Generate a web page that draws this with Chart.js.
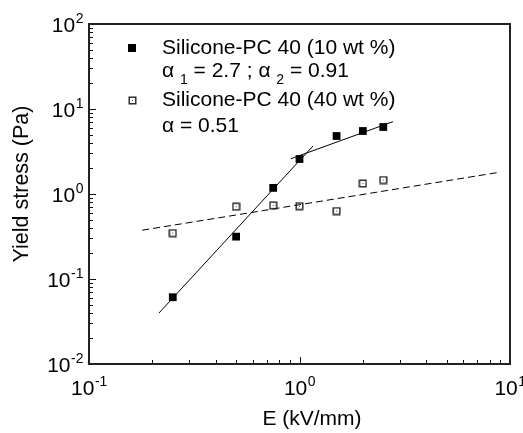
<!DOCTYPE html>
<html>
<head>
<meta charset="utf-8">
<script src="https://cdn.jsdelivr.net/npm/chart.js@4/dist/chart.umd.min.js"></script>
<style>
  body { margin: 0; background: #fff; }
  canvas { display: block; }
</style>
</head>
<body>
<canvas id="yieldChart" width="523" height="433"></canvas>
<script>
// E field (kV/mm) and yield stress (Pa)
const eField = [0.25, 0.5, 0.75, 1.0, 1.5, 2.0, 2.5];
const stress10wt = [0.061, 0.315, 1.18, 2.58, 4.81, 5.51, 6.14];
const stress40wt = [0.347, 0.71, 0.735, 0.72, 0.63, 1.33, 1.46];

// fitted power-law lines (end points)
const fit1E = [0.215, 1.16];
const fit1Stress = [0.0398, 3.68];
const fit2E = [0.91, 2.78];
const fit2Stress = [2.6, 7.1];
const fit40E = [0.179, 8.65];
const fit40Stress = [0.375, 1.78];

// axes
const xRange = [0.1, 10];
const yRange = [0.01, 100];
const xTickValues = [0.1, 1, 10];
const yTickValues = [0.01, 0.1, 1, 10, 100];
const xTitle = "E (kV/mm)";
const yTitle = "Yield stress (Pa)";

const FONT = '"Liberation Sans", Arial, sans-serif';

function toPoints(xs, ys) {
    return xs.map(function(x, i) { return { x: x, y: ys[i] }; });
}

// open square with a small dot in the middle
function openSquare() {
    let c = document.createElement("canvas");
    c.width = 9; c.height = 9;
    let g = c.getContext("2d");
    g.strokeStyle = "#222";
    g.lineWidth = 1.4;
    g.strokeRect(1.2, 1.2, 6.6, 6.6);
    g.fillStyle = "#444";
    g.fillRect(4, 4, 1, 1);
    return c;
}
const openMarker = openSquare();

function drawPow(ctx, exp, x, y, align) {
    ctx.font = "21px " + FONT;
    let w1 = ctx.measureText("10").width;
    ctx.font = "14px " + FONT;
    let sup = String(exp);
    let w2 = ctx.measureText(sup).width;
    let left = align === "right" ? x - w1 - w2 : x - (w1 + w2) / 2;
    ctx.textAlign = "left";
    ctx.textBaseline = "alphabetic";
    ctx.font = "21px " + FONT;
    ctx.fillText("10", left, y);
    ctx.font = "14px " + FONT;
    ctx.fillText(sup, left + w1 + 0.5, y - 9);
}

// frame, inward ticks, tick labels, titles and legend
const decorPlugin = {
    id: "decor",
    afterDraw: function(chart) {
        let ctx = chart.ctx;
        let a = chart.chartArea;
        let xs = chart.scales.x, ys = chart.scales.y;
        ctx.save();
        ctx.fillStyle = "#000";
        ctx.strokeStyle = "#111";

        // ticks
        ctx.lineWidth = 1;
        ctx.beginPath();
        for (let n = -1; n <= 1; n++) {
            for (let k = 1; k <= 9; k++) {
                let v = k * Math.pow(10, n);
                if (v < xRange[0] || v > xRange[1]) continue;
                let px = Math.round(xs.getPixelForValue(v)) + 0.5;
                let len = k === 1 ? 7 : 4;
                ctx.moveTo(px, a.bottom);
                ctx.lineTo(px, a.bottom - len);
            }
        }
        for (let n = -2; n <= 2; n++) {
            for (let k = 1; k <= 9; k++) {
                let v = k * Math.pow(10, n);
                if (v < yRange[0] || v > yRange[1]) continue;
                let py = Math.round(ys.getPixelForValue(v)) + 0.5;
                let len = k === 1 ? 7 : 4;
                ctx.moveTo(a.left, py);
                ctx.lineTo(a.left + len, py);
            }
        }
        ctx.stroke();

        // frame
        ctx.lineWidth = 2;
        ctx.strokeStyle = "#222";
        ctx.strokeRect(a.left, a.top, a.right - a.left, a.bottom - a.top);

        // tick labels
        xTickValues.forEach(function(v) {
            drawPow(ctx, Math.round(Math.log10(v)), xs.getPixelForValue(v), a.bottom + 31, "center");
        });
        yTickValues.forEach(function(v) {
            drawPow(ctx, Math.round(Math.log10(v)), a.left - 6, ys.getPixelForValue(v) + 7.5, "right");
        });

        // axis titles
        ctx.font = "21px " + FONT;
        ctx.textAlign = "center";
        ctx.textBaseline = "alphabetic";
        ctx.fillText(xTitle, 312, 425);
        ctx.save();
        ctx.translate(28, 184);
        ctx.rotate(-Math.PI / 2);
        ctx.font = "21.5px " + FONT;
        ctx.fillText(yTitle, 0, 0);
        ctx.restore();

        // legend
        ctx.textAlign = "left";
        ctx.fillStyle = "#000";
        ctx.fillRect(128, 44, 8, 8);
        ctx.drawImage(openMarker, 128, 96);
        ctx.font = "21px " + FONT;
        ctx.fillText("Silicone-PC 40 (10 wt %)", 162, 54);
        ctx.fillText("Silicone-PC 40 (40 wt %)", 162, 106);
        ctx.fillText("\u03b1 = 0.51", 162, 132);
        // alpha line with subscripts
        let x = 162, y = 77;
        let parts = [["\u03b1 ", 0], ["1", 1], [" = 2.7 ; \u03b1 ", 0], ["2", 1], [" = 0.91", 0]];
        parts.forEach(function(p) {
            ctx.font = (p[1] ? "14px " : "21px ") + FONT;
            ctx.fillText(p[0], x, p[1] ? y + 7 : y);
            x += ctx.measureText(p[0]).width;
        });
        ctx.restore();
    }
};

new Chart(document.getElementById("yieldChart").getContext("2d"), {
    type: "scatter",
    data: {
        datasets: [
            {
                label: "Silicone-PC 40 (10 wt %)",
                data: toPoints(eField, stress10wt),
                pointStyle: "rect",
                pointRadius: 5.5,
                backgroundColor: "#000",
                borderWidth: 0
            },
            {
                label: "Silicone-PC 40 (40 wt %)",
                data: toPoints(eField, stress40wt),
                pointStyle: openMarker,
                pointRadius: 5
            },
            {
                label: "fit 1",
                data: toPoints(fit1E, fit1Stress),
                showLine: true,
                pointRadius: 0,
                borderColor: "#000",
                borderWidth: 1
            },
            {
                label: "fit 2",
                data: toPoints(fit2E, fit2Stress),
                showLine: true,
                pointRadius: 0,
                borderColor: "#000",
                borderWidth: 1
            },
            {
                label: "fit 40",
                data: toPoints(fit40E, fit40Stress),
                showLine: true,
                pointRadius: 0,
                borderColor: "#000",
                borderWidth: 1,
                borderDash: [7, 4]
            }
        ]
    },
    options: {
        responsive: false,
        animation: false,
        layout: { padding: { left: 89, top: 24, right: 13, bottom: 69 } },
        plugins: { legend: { display: false }, tooltip: { enabled: false } },
        scales: {
            x: { type: "logarithmic", min: xRange[0], max: xRange[1], display: false },
            y: { type: "logarithmic", min: yRange[0], max: yRange[1], display: false }
        }
    },
    plugins: [decorPlugin]
});
</script>
</body>
</html>
